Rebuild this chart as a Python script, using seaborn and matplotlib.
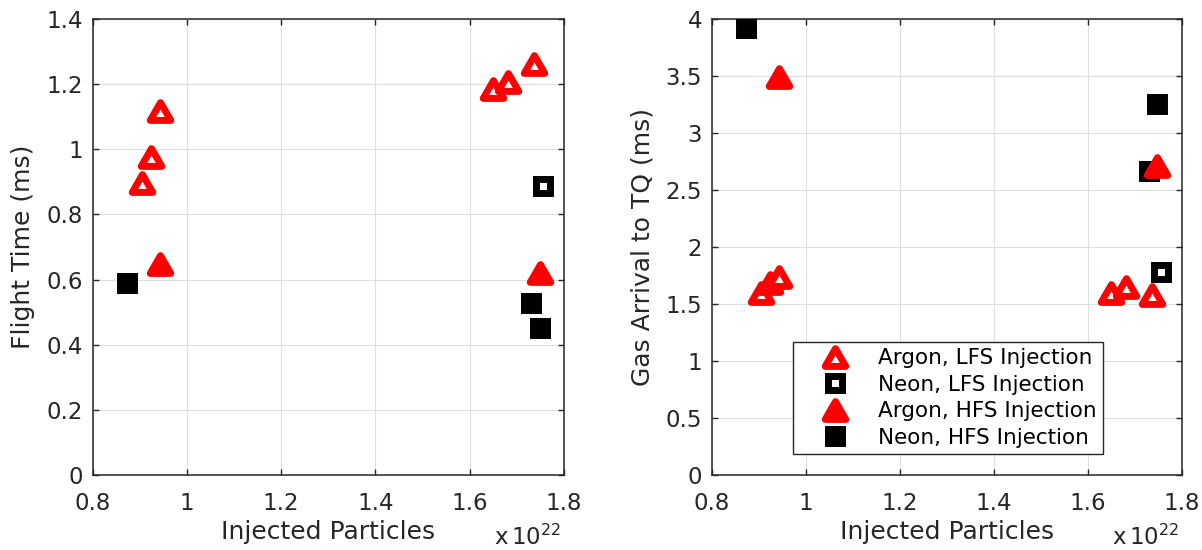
import numpy as np
import matplotlib
matplotlib.use("Agg")
import matplotlib.pyplot as plt
import seaborn as sns
from matplotlib.markers import MarkerStyle
from matplotlib.path import Path
from matplotlib.ticker import FuncFormatter

# injected particles in units of 1e22
argon_lfs_particles = [0.904, 0.925, 0.944, 1.650, 1.682, 1.736]
argon_lfs_flight = [0.896, 0.975, 1.119, 1.186, 1.208, 1.263]
argon_lfs_arrival = [1.597, 1.683, 1.733, 1.595, 1.652, 1.578]

neon_lfs_particles = [1.755]
neon_lfs_flight = [0.888]
neon_lfs_arrival = [1.777]

argon_hfs_particles = [0.944, 1.748]
argon_hfs_flight = [0.648, 0.619]
argon_hfs_arrival = [3.491, 2.711]

neon_hfs_particles = [0.873, 1.730, 1.748]
neon_hfs_flight = [0.589, 0.528, 0.452]
neon_hfs_arrival = [3.917, 2.663, 3.258]

labels = ["Argon, LFS Injection", "Neon, LFS Injection",
          "Argon, HFS Injection", "Neon, HFS Injection"]

AX_COLOR = "#262626"

sns.set_theme(style="white")
plt.rcParams["font.family"] = ["DejaVu Sans"]
plt.rcParams["mathtext.fontset"] = "dejavusans"

# equilateral triangle centred on its bounding box, sharp corners like MATLAB
tri_path = Path([(0, 0.75), (-0.866, -0.75), (0.866, -0.75), (0, 0.75)],
                [Path.MOVETO, Path.LINETO, Path.LINETO, Path.CLOSEPOLY])
TRI = MarkerStyle(tri_path, joinstyle="miter")
SQR = MarkerStyle("s", joinstyle="miter")

styles = {
    "argon_lfs": dict(marker=TRI, markersize=14.8, markeredgewidth=5.0,
                      markeredgecolor="#ff0000", markerfacecolor="white"),
    "neon_lfs": dict(marker=SQR, markersize=10.1, markeredgewidth=5.0,
                     markeredgecolor="black", markerfacecolor="white"),
    "argon_hfs": dict(marker=TRI, markersize=14.8, markeredgewidth=5.0,
                      markeredgecolor="#ff0000", markerfacecolor="#ff0000"),
    "neon_hfs": dict(marker=SQR, markersize=10.1, markeredgewidth=5.0,
                     markeredgecolor="black", markerfacecolor="black"),
}


def draw_series(ax, x, y, key, label, z):
    sns.lineplot(x=x, y=y, ax=ax, linestyle="none", sort=False,
                 estimator=None, legend=False, label=label, zorder=z,
                 **styles[key])


def style_axes(ax, ylim, ystep, ylabel):
    ax.set_xlim(0.8, 1.8)
    ax.set_ylim(*ylim)
    ax.set_xticks(np.arange(0.8, 1.81, 0.2))
    ax.set_yticks(np.arange(ylim[0], ylim[1] + 1e-6, ystep))
    fmt = FuncFormatter(lambda v, p: "{:g}".format(round(v, 4)))
    ax.xaxis.set_major_formatter(fmt)
    ax.yaxis.set_major_formatter(fmt)
    ax.grid(True, color="#dedede", linewidth=0.8)
    ax.set_axisbelow(True)
    for sp in ax.spines.values():
        sp.set_visible(True)
        sp.set_color(AX_COLOR)
        sp.set_linewidth(1.1)
    ax.tick_params(direction="in", length=4, width=1.0, color=AX_COLOR,
                   labelcolor=AX_COLOR, labelsize=16.5, pad=7,
                   top=True, right=True, bottom=True, left=True)
    ax.tick_params(axis="x", pad=12)
    ax.set_xlabel("Injected Particles", fontsize=18, color=AX_COLOR, labelpad=4)
    ax.set_ylabel(ylabel, fontsize=18, color=AX_COLOR, labelpad=8)
    ax.text(0.994, -0.153, r"x$\,$10$^{22}$", transform=ax.transAxes,
            ha="right", va="baseline", fontsize=16.5, color=AX_COLOR)


fig = plt.figure(figsize=(12.02, 5.5), dpi=100)
ax1 = fig.add_axes([0.0770, 0.1364, 0.3923, 0.8291])
ax2 = fig.add_axes([0.5921, 0.1364, 0.3910, 0.8291])

draw_series(ax1, argon_lfs_particles, argon_lfs_flight, "argon_lfs", labels[0], 3)
draw_series(ax1, neon_lfs_particles, neon_lfs_flight, "neon_lfs", labels[1], 3)
draw_series(ax1, neon_hfs_particles, neon_hfs_flight, "neon_hfs", labels[3], 3)
draw_series(ax1, argon_hfs_particles, argon_hfs_flight, "argon_hfs", labels[2], 4)
style_axes(ax1, (0, 1.4), 0.2, "Flight Time (ms)")

draw_series(ax2, argon_lfs_particles, argon_lfs_arrival, "argon_lfs", labels[0], 3)
draw_series(ax2, neon_lfs_particles, neon_lfs_arrival, "neon_lfs", labels[1], 3)
draw_series(ax2, neon_hfs_particles, neon_hfs_arrival, "neon_hfs", labels[3], 3)
draw_series(ax2, argon_hfs_particles, argon_hfs_arrival, "argon_hfs", labels[2], 4)
style_axes(ax2, (0, 4), 0.5, "Gas Arrival to TQ (ms)")

handles, lbls = ax2.get_legend_handles_labels()
order = [lbls.index(l) for l in labels]
leg = ax2.legend([handles[i] for i in order], labels,
                 loc="lower left", bbox_to_anchor=(0.173, 0.046),
                 borderaxespad=0, fontsize=15.5, frameon=True, fancybox=False,
                 edgecolor=AX_COLOR, framealpha=1, labelspacing=0.3,
                 handlelength=3.3, handletextpad=0.35, borderpad=0.3)
leg.get_frame().set_linewidth(1.0)
for t in leg.get_texts():
    t.set_color("black")

fig.savefig("out.png", dpi=100)
plt.close(fig)
